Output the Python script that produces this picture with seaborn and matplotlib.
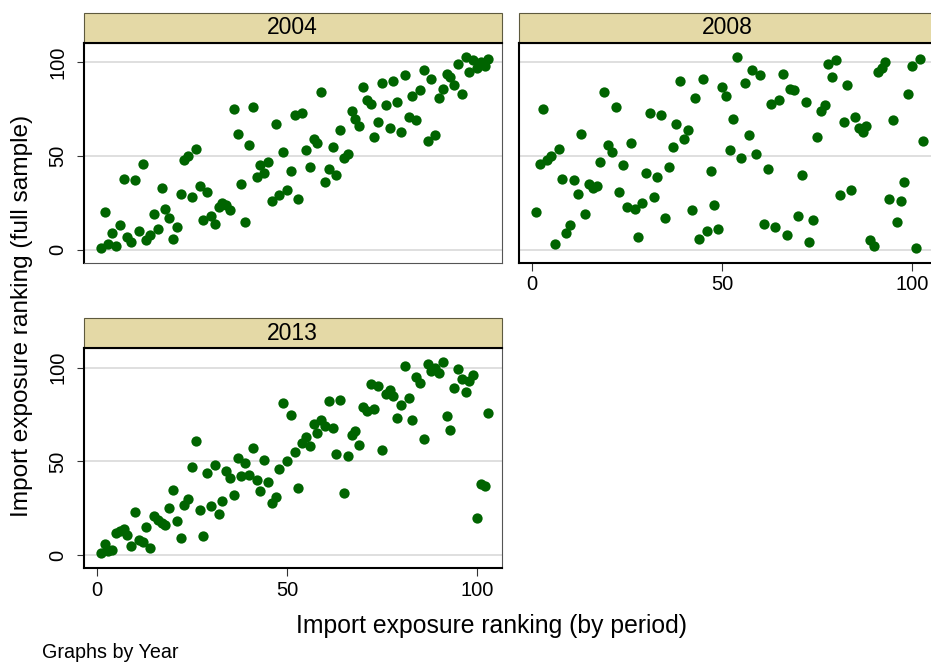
import matplotlib
matplotlib.use("Agg")
import matplotlib.pyplot as plt
from matplotlib.patches import Rectangle
import seaborn as sns
import pandas as pd

sns.set_style("white")
plt.rcParams["font.family"] = ["Liberation Sans", "DejaVu Sans"]
plt.rcParams["text.color"] = "black"
plt.rcParams["xtick.labelcolor"] = "black"
plt.rcParams["ytick.labelcolor"] = "black"

# Rank of each unit within its own period (same ordering in every year)
period_rank = [1, 2, 3, 4, 5, 6, 7, 8, 9, 10, 11, 12, 13, 14, 15, 16, 17, 18, 19, 20,
               21, 22, 23, 24, 25, 26, 27, 28, 29, 30, 31, 32, 33, 34, 35, 36, 37, 38, 39, 40,
               41, 42, 43, 44, 45, 46, 47, 48, 49, 50, 51, 52, 53, 54, 55, 56, 57, 58, 59, 60,
               61, 62, 63, 64, 65, 66, 67, 68, 69, 70, 71, 72, 73, 74, 75, 76, 77, 78, 79, 80,
               81, 82, 83, 84, 85, 86, 87, 88, 89, 90, 91, 92, 93, 94, 95, 96, 97, 98, 99, 100,
               101, 102, 103]

# Rank in the full (pooled) sample
full_rank_2004 = [1, 20, 3, 9, 2, 13, 38, 7, 4, 37, 10, 46, 5, 8, 19, 11, 33, 22, 17, 6,
                  12, 30, 48, 50, 28, 54, 34, 16, 31, 18, 14, 23, 25, 24, 21, 75, 62, 35, 15, 56,
                  76, 39, 45, 41, 47, 26, 67, 29, 52, 32, 42, 72, 27, 73, 53, 44, 59, 57, 84, 36,
                  43, 55, 40, 64, 49, 51, 74, 70, 66, 87, 80, 78, 60, 68, 89, 77, 65, 90, 79, 63,
                  93, 71, 82, 69, 85, 96, 58, 91, 61, 81, 86, 94, 92, 88, 99, 83, 103, 95, 101, 97,
                  100, 98, 102]

full_rank_2008 = [20, 46, 75, 48, 50, 3, 54, 38, 9, 13, 37, 30, 62, 19, 35, 33, 34, 47, 84, 56,
                  52, 76, 31, 45, 23, 57, 22, 7, 25, 41, 73, 28, 39, 72, 17, 44, 55, 67, 90, 59,
                  64, 21, 81, 6, 91, 10, 42, 24, 11, 87, 82, 53, 70, 103, 49, 89, 61, 96, 51, 93,
                  14, 43, 78, 12, 80, 94, 8, 86, 85, 18, 40, 79, 4, 16, 60, 74, 77, 99, 92, 101,
                  29, 68, 88, 32, 71, 65, 63, 66, 5, 2, 95, 97, 100, 27, 69, 15, 26, 36, 83, 98,
                  1, 102, 58]

full_rank_2013 = [1, 6, 2, 3, 12, 13, 14, 11, 5, 23, 8, 7, 15, 4, 21, 19, 17, 16, 25, 35,
                  18, 9, 27, 30, 47, 61, 24, 10, 44, 26, 48, 22, 29, 45, 41, 32, 52, 42, 49, 43,
                  57, 40, 34, 51, 39, 28, 31, 46, 81, 50, 75, 55, 36, 60, 63, 58, 70, 65, 72, 69,
                  82, 68, 54, 83, 33, 53, 64, 66, 59, 79, 77, 91, 78, 90, 56, 86, 88, 85, 73, 80,
                  101, 84, 72, 95, 92, 62, 102, 98, 100, 97, 103, 74, 67, 89, 99, 94, 87, 93, 96, 20,
                  38, 37, 76]

years = ["2004", "2008", "2013"]
full_ranks = [full_rank_2004, full_rank_2008, full_rank_2013]

frames = []
for yr, vals in zip(years, full_ranks):
    frames.append(pd.DataFrame({"Year": yr, "period": period_rank, "full": vals}))
df = pd.concat(frames, ignore_index=True)

W, H = 931, 664
fig = plt.figure(figsize=(W / 100, H / 100), dpi=100)

# panel boxes in pixels: left, top (panel width/height shared)
panel_w, panel_h = 417.5, 220
boxes = {"2004": (84, 43), "2008": (519, 43), "2013": (84, 348.3)}
strip_h = 30

green = "#006400"
grid_col = "#DCDCDC"
frame_col = "#555555"

for yr in years:
    lx, ty = boxes[yr]
    ax = fig.add_axes([lx / W, 1 - (ty + panel_h) / H, panel_w / W, panel_h / H])
    sub = df[df["Year"] == yr]
    sns.scatterplot(data=sub, x="period", y="full", ax=ax, color=green,
                    s=55, linewidth=0, legend=False, zorder=3)
    ax.set_xlim(-3.42, 106.45)
    ax.set_ylim(-7.0, 110.3)
    ax.set_xlabel("")
    ax.set_ylabel("")
    ax.set_yticks([0, 50, 100])
    ax.set_xticks([0, 50, 100])
    ax.yaxis.grid(True, color=grid_col, linewidth=1.3, zorder=0)
    ax.xaxis.grid(False)
    ax.set_axisbelow(True)

    show_y = yr in ("2004", "2013")
    show_x = yr in ("2008", "2013")

    ax.tick_params(axis="y", left=show_y, labelleft=show_y, direction="out",
                   length=5, width=0.8, color="#333333", pad=7,
                   labelsize=14.5, labelrotation=90, labelcolor="black")
    for lab in ax.get_yticklabels():
        lab.set_va("center")
    ax.tick_params(axis="x", bottom=show_x, labelbottom=show_x, direction="out",
                   length=6, width=0.8, color="#333333", pad=3, labelsize=14.5,
                   labelcolor="black")

    for side in ("left", "top"):
        ax.spines[side].set_color("black")
        ax.spines[side].set_linewidth(1.5)
    ax.spines["right"].set_color(frame_col)
    ax.spines["right"].set_linewidth(0.8)
    if show_x:
        ax.spines["bottom"].set_color("black")
        ax.spines["bottom"].set_linewidth(1.5)
    else:
        ax.spines["bottom"].set_color(frame_col)
        ax.spines["bottom"].set_linewidth(0.8)

    # by-group strip above each panel
    sh = strip_h / panel_h
    ax.add_patch(Rectangle((0, 1), 1, sh, transform=ax.transAxes, clip_on=False,
                           facecolor="#E4D9A6", edgecolor="#5E5A3E", linewidth=0.8,
                           zorder=1))
    ax.text(0.5, 1 + sh / 2, yr, transform=ax.transAxes, ha="center", va="center",
            fontsize=16.5, color="black")

fig.text(22 / W, 1 - 316 / H, "Import exposure ranking (full sample)", rotation=90,
         ha="center", va="center", fontsize=17.6, color="black")
fig.text(492 / W, 1 - 626 / H, "Import exposure ranking (by period)",
         ha="center", va="center", fontsize=17.8, color="black")
fig.text(42 / W, 1 - 652 / H, "Graphs by Year", ha="left", va="center",
         fontsize=14.2, color="black")

fig.savefig("out.png", dpi=100, facecolor="white")
